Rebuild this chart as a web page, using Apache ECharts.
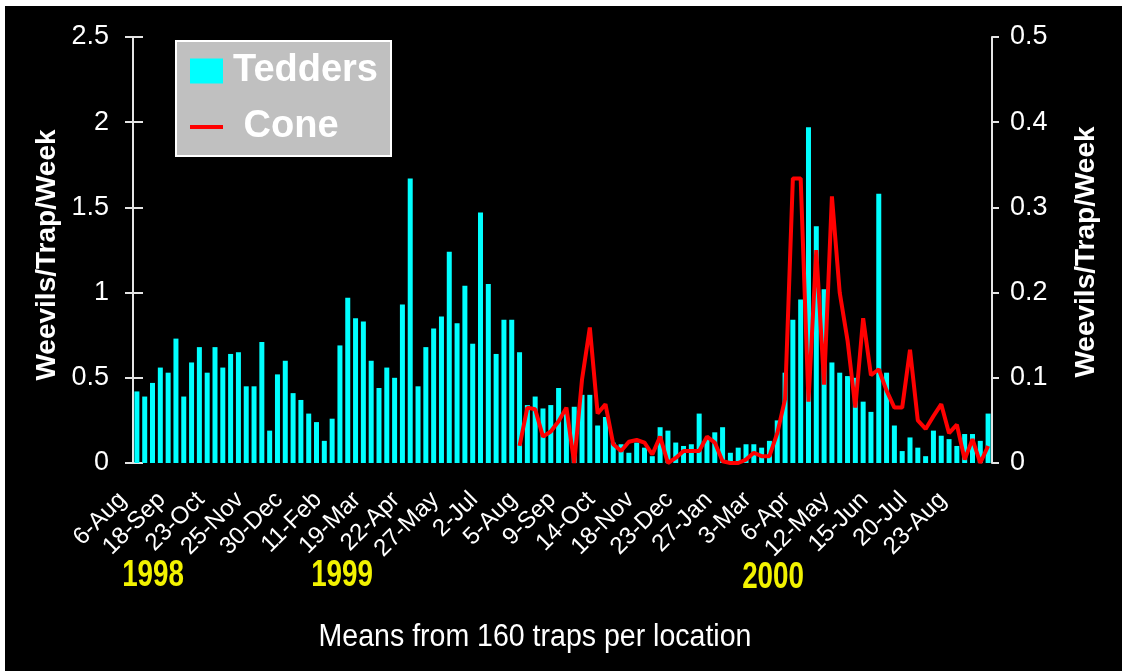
<!DOCTYPE html>
<html>
<head>
<meta charset="utf-8">
<script src="https://cdn.jsdelivr.net/npm/echarts@6/dist/echarts.min.js"></script>
<style>
  html, body { margin: 0; background: #fff; }
  #chart { position: absolute; left: 5px; top: 6px; width: 1117px; height: 665px; background: #000; }
</style>
</head>
<body>
<div id="chart"></div>
<script>
// tick labels shown on the x axis, one every 5 weeks
const dateLabels = ["6-Aug", "18-Sep", "23-Oct", "25-Nov", "30-Dec", "11-Feb", "19-Mar", "22-Apr",
  "27-May", "2-Jul", "5-Aug", "9-Sep", "14-Oct", "18-Nov", "23-Dec", "27-Jan", "3-Mar", "6-Apr",
  "12-May", "15-Jun", "20-Jul", "23-Aug"];
const years = ["1998", "1999", "2000"];

// weekly means, left axis
const tedders = [
  0.42, 0.39, 0.47, 0.56, 0.53, 0.73, 0.39, 0.59, 0.68, 0.53,
  0.68, 0.56, 0.64, 0.65, 0.45, 0.45, 0.71, 0.19, 0.52, 0.60,
  0.41, 0.37, 0.29, 0.24, 0.13, 0.26, 0.69, 0.97, 0.85, 0.83,
  0.60, 0.44, 0.56, 0.50, 0.93, 1.67, 0.45, 0.68, 0.79, 0.86,
  1.24, 0.82, 1.04, 0.70, 1.47, 1.05, 0.64, 0.84, 0.84, 0.65,
  0.34, 0.39, 0.32, 0.34, 0.44, 0.30, 0.33, 0.40, 0.40, 0.22,
  0.27, 0.12, 0.11, 0.06, 0.12, 0.09, 0.04, 0.21, 0.19, 0.12,
  0.10, 0.11, 0.29, 0.14, 0.18, 0.21, 0.06, 0.09, 0.11, 0.11,
  0.09, 0.13, 0.25, 0.53, 0.84, 0.96, 1.97, 1.39, 1.02, 0.59,
  0.53, 0.51, 0.50, 0.36, 0.30, 1.58, 0.53, 0.22, 0.07, 0.15,
  0.09, 0.04, 0.19, 0.16, 0.14, 0.10, 0.17, 0.17, 0.13, 0.29
];

// weekly means, right axis (no traps before week 50)
const cone = [
  null, null, null, null, null, null, null, null, null, null,
  null, null, null, null, null, null, null, null, null, null,
  null, null, null, null, null, null, null, null, null, null,
  null, null, null, null, null, null, null, null, null, null,
  null, null, null, null, null, null, null, null, null, 0.020,
  0.065, 0.063, 0.031, 0.037, 0.049, 0.065, 0.000, 0.098, 0.159, 0.058,
  0.069, 0.022, 0.014, 0.025, 0.027, 0.024, 0.010, 0.031, 0.000, 0.006,
  0.014, 0.014, 0.014, 0.031, 0.024, 0.002, 0.000, 0.000, 0.004, 0.012,
  0.008, 0.008, 0.035, 0.075, 0.334, 0.334, 0.072, 0.250, 0.092, 0.313,
  0.200, 0.144, 0.065, 0.170, 0.103, 0.110, 0.085, 0.065, 0.065, 0.133,
  0.050, 0.040, 0.055, 0.069, 0.035, 0.045, 0.004, 0.028, 0.000, 0.020
];

const categories = tedders.map((v, i) => (i % 5 === 0 ? dateLabels[i / 5] : "w" + (i + 1)));

const font = "'Liberation Sans', Arial, sans-serif";
const white = "#fff";
const axisCol = "#e4e4e4";

const chart = echarts.init(document.getElementById("chart"));

chart.setOption({
  animation: false,
  backgroundColor: "#000",
  grid: { left: 128, right: 130, top: 31, bottom: 208 },
  legend: {
    orient: "vertical",
    left: 171,
    top: 35,
    data: [
      { name: "Tedders", icon: "rect" },
      { name: "Cone", icon: "path://M0,0H33V4H0Z" }
    ],
    itemWidth: 33,
    itemHeight: 25,
    itemGap: 18,
    padding: [11, 13, 10, 14],
    backgroundColor: "#c0c0c0",
    borderColor: "#fff",
    borderWidth: 2,
    borderRadius: 0,
    selectedMode: false,
    formatter: (n) => (n === "Cone" ? " Cone" : n),
    textStyle: {
      color: white, fontSize: 38, fontWeight: "bold", fontFamily: font, lineHeight: 38,
      padding: [0, 0, 0, 5]
    }
  },
  xAxis: {
    type: "category",
    data: categories,
    axisLine: { show: false },
    axisTick: { show: false },
    axisLabel: {
      interval: 4,
      rotate: 45,
      color: white,
      fontSize: 24,
      fontFamily: font,
      margin: 19,
      padding: [0, 20, 0, 0]
    }
  },
  yAxis: [
    {
      type: "value",
      position: "left",
      min: 0, max: 2.5, interval: 0.5,
      splitLine: { show: false },
      axisLine: { show: true, lineStyle: { color: axisCol, width: 2 } },
      axisTick: { show: true, length: 8, lineStyle: { color: axisCol, width: 2 } },
      axisLabel: { color: white, fontSize: 27, fontFamily: font, margin: 24 }
    },
    {
      type: "value",
      position: "right",
      min: 0, max: 0.5, interval: 0.1,
      splitLine: { show: false },
      axisLine: { show: true, lineStyle: { color: axisCol, width: 2 } },
      axisTick: { show: true, length: 7, lineStyle: { color: axisCol, width: 2 } },
      axisLabel: { color: white, fontSize: 27, fontFamily: font, margin: 18 }
    },
    {
      // inner half of the crossing ticks on the left axis
      type: "value",
      position: "left",
      min: 0, max: 2.5, interval: 0.5,
      splitLine: { show: false },
      axisLine: { show: false },
      axisTick: { show: true, inside: true, length: 10, lineStyle: { color: axisCol, width: 2 } },
      axisLabel: { show: false }
    }
  ],
  series: [
    {
      name: "Tedders",
      type: "bar",
      data: tedders,
      barWidth: 5,
      itemStyle: { color: "#00ffff" }
    },
    {
      name: "Cone",
      type: "line",
      yAxisIndex: 1,
      data: cone,
      symbol: "none",
      connectNulls: false,
      itemStyle: { color: "#ff0000" },
      lineStyle: { color: "#ff0000", width: 4 },
      z: 5
    }
  ],
  graphic: [
    {
      type: "text", x: 42, y: 249, rotation: Math.PI / 2,
      style: { text: "Weevils/Trap/Week", fill: white, font: "bold 28px " + font, align: "center", verticalAlign: "middle" }
    },
    {
      type: "text", x: 1081, y: 246, rotation: Math.PI / 2,
      style: { text: "Weevils/Trap/Week", fill: white, font: "bold 28px " + font, align: "center", verticalAlign: "middle" }
    },
    {
      type: "text", x: 148, y: 570, scaleX: 0.75,
      style: { text: years[0], fill: "#f2f200", font: "bold 37px " + font, align: "center", verticalAlign: "middle" }
    },
    {
      type: "text", x: 337, y: 570, scaleX: 0.75,
      style: { text: years[1], fill: "#f2f200", font: "bold 37px " + font, align: "center", verticalAlign: "middle" }
    },
    {
      type: "text", x: 768, y: 572, scaleX: 0.75,
      style: { text: years[2], fill: "#f2f200", font: "bold 37px " + font, align: "center", verticalAlign: "middle" }
    },
    {
      type: "text", x: 530, y: 631, scaleX: 0.92,
      style: { text: "Means from 160 traps per location", fill: white, font: "31px " + font, align: "center", verticalAlign: "middle" }
    }
  ]
});
</script>
</body>
</html>
